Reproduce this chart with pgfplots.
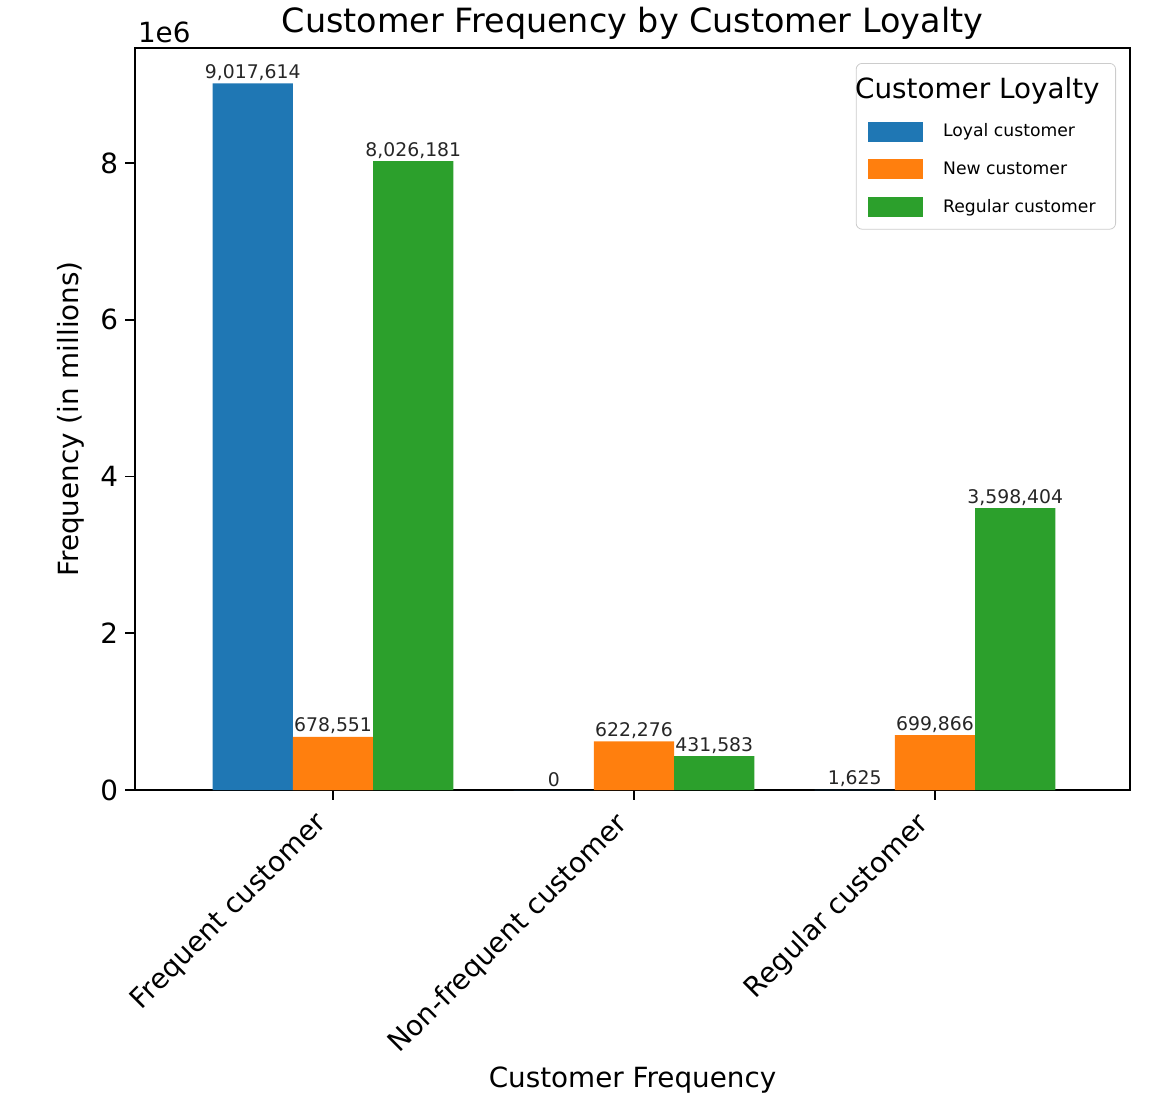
\documentclass[border=0pt]{standalone}
\usepackage{fontspec}
\setmainfont{DejaVu Sans}
\usepackage{pgfplots}
\pgfplotsset{compat=1.18}
\definecolor{tabblue}{HTML}{1F77B4}
\definecolor{taborange}{HTML}{FF7F0E}
\definecolor{tabgreen}{HTML}{2CA02C}
\definecolor{txt}{HTML}{262626}
\begin{document}
\begin{tikzpicture}
\begin{axis}[
  scale only axis,
  width=497.5pt, height=371pt,
  xmin=-0.658, xmax=2.648,
  ymin=0, ymax=9468495,
  clip=false,
  ybar, bar width=0.2667,
  axis line style={line width=0.9pt, black},
  tick style={line width=0.9pt, black},
  tick align=outside, major tick length=4.9pt,
  xtick pos=bottom, ytick pos=left,
  xtick={0,1,2},
  xticklabels={Frequent customer, Non-frequent customer, Regular customer},
  xticklabel style={xshift=-10pt, yshift=-2pt, rotate=45, anchor=north east, font=\fontsize{13.9}{16}\selectfont, inner sep=2pt},
  ytick={0,2000000,4000000,6000000,8000000},
  yticklabels={0,2,4,6,8},
  scaled y ticks=false,
  yticklabel style={font=\fontsize{13.9}{16}\selectfont},
  /pgf/number format/assume math mode=true,
  /pgf/number format/fixed,
  /pgf/number format/precision=0,
  /pgf/number format/1000 sep={,},
  nodes near coords,
  every node near coord/.append style={font=\fontsize{9.4}{11}\selectfont, text=txt, anchor=south, inner sep=1.2pt},
  title={Customer Frequency by Customer Loyalty},
  title style={at={(axis description cs:0.5,1)}, anchor=base, yshift=2pt, font=\fontsize{16.7}{19}\selectfont},
  xlabel={Customer Frequency},
  xlabel style={at={(axis description cs:0.5,0)}, anchor=center, yshift=-145pt, font=\fontsize{13.9}{16}\selectfont},
  ylabel={Frequency (in millions)},
  ylabel style={at={(axis description cs:-0.044,0.5)}, anchor=south, rotate=0, font=\fontsize{13.9}{16}\selectfont},
  legend cell align=left,
  legend style={at={(axis description cs:1,1)}, anchor=north east, xshift=-7pt, yshift=-7.5pt,
    draw=black!20, rounded corners=3pt, font=\fontsize{8.6}{11}\selectfont,
    row sep=7pt, column sep=8pt, inner xsep=6pt, inner ysep=5pt},
  legend image code/.code={\fill[#1, sharp corners] (0pt,-5pt) rectangle (27.5pt,5pt);},
]
\addlegendimage{empty legend}
\addlegendentry{\hspace{-44pt}\fontsize{13.9}{16}\selectfont Customer Loyalty}
\addplot[fill=tabblue, draw=none, bar shift=-0.2667] coordinates {(0,9017614) (1,0) (2,1625)};
\addlegendentry{Loyal customer}
\addplot[fill=taborange, draw=none, bar shift=0] coordinates {(0,678551) (1,622276) (2,699866)};
\addlegendentry{New customer}
\addplot[fill=tabgreen, draw=none, bar shift=0.2667] coordinates {(0,8026181) (1,431583) (2,3598404)};
\addlegendentry{Regular customer}
\node[anchor=base west, font=\fontsize{13.9}{16}\selectfont] at ([xshift=-2pt,yshift=3pt]rel axis cs:0,1) {1e6};
\end{axis}
\pgfresetboundingbox
\path ([shift={(-67.5pt,-161pt)}]current axis.south west) rectangle ([shift={(23pt,24pt)}]current axis.north east);
\end{tikzpicture}
\end{document}
